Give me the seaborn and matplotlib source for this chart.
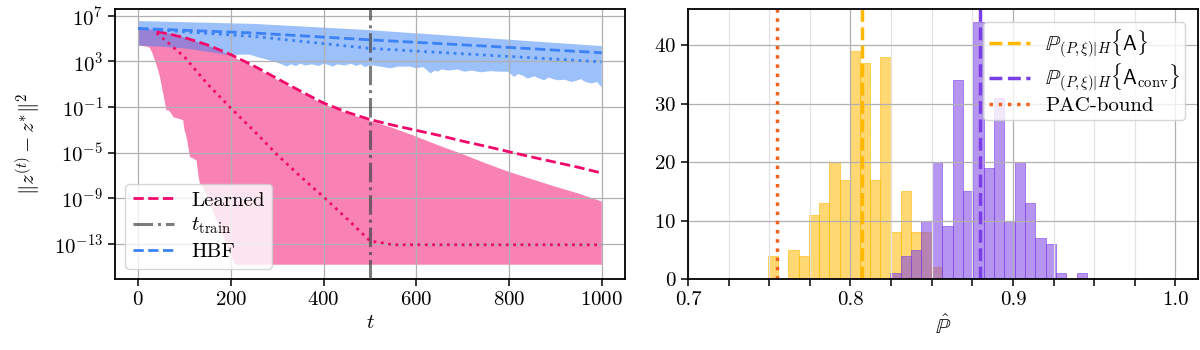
import numpy as np
import matplotlib
matplotlib.use("Agg")
import matplotlib.pyplot as plt
from matplotlib.ticker import FixedLocator, NullLocator, MultipleLocator, FixedFormatter
import seaborn as sns

# ---------------- convergence data (log10 of squared distance) ----------------
t_learned = [40, 100, 150, 200, 250, 300, 350, 400, 450, 500,
             550, 600, 650, 700, 750, 800, 850, 900, 950, 1000]
learned_median_exp = [5.65, 5.1, 4.45, 3.6, 2.6, 1.5, 0.4, -0.65, -1.45, -2.1,
                      -2.6, -3.05, -3.5, -4.0, -4.45, -4.93, -5.4, -5.85, -6.3, -6.8]
learned_best_exp = [5.5, 3.4, 1.0, -1.1, -3.1, -5.2, -7.1, -8.9, -10.8, -12.75,
                    -13.1, -13.1, -13.1, -13.1, -13.1, -13.1, -13.1, -13.1, -13.1, -13.1]

t_band = [0, 50, 100, 150, 200, 250, 300, 350, 400, 450, 500,
          550, 600, 650, 700, 750, 800, 850, 900, 950, 1000]
learned_upper_exp = [6.0, 5.65, 5.1, 4.4, 3.5, 2.5, 1.4, 0.3, -0.75, -1.55, -2.2,
                     -2.85, -3.6, -4.4, -5.15, -5.95, -6.7, -7.35, -8.0, -8.6, -9.3]
t_learned_lower = [0, 10, 20, 25, 30, 36, 42, 47, 54, 61, 66, 72, 76, 85, 97, 100,
                   105, 112, 118, 126, 130, 133, 140, 150, 160, 170, 180, 190, 200,
                   210, 1000]
learned_lower_exp = [4.4, 4.35, 4.3, 4.2, 3.8, 3.1, 2.4, 1.65, 0.2, -1.3, -1.3, -1.6,
                     -1.9, -2.0, -2.15, -3.0, -3.75, -5.4, -5.5, -5.7, -7.0, -7.7, -8.0,
                     -9.0, -10.0, -11.0, -12.0, -13.0, -14.0, -14.85, -14.85]

t_hbf = [0, 250, 500, 750, 1000]
hbf_median_exp = [5.9, 5.5, 4.9, 4.35, 3.76]
hbf_upper_exp = [6.55, 6.3, 5.75, 5.05, 4.35]
t_hbf_best = [0, 50, 100, 250, 500, 750, 1000]
hbf_best_exp = [5.9, 5.75, 5.6, 5.2, 4.15, 3.56, 2.97]
t_hbf_lower = [0, 50, 100, 126, 150, 198, 220, 241, 260, 284, 300, 306, 313, 320, 330,
               340, 350, 360, 375, 390, 400, 410, 420, 430, 445, 460, 470, 480, 490,
               500, 544, 560, 587, 600, 615, 631, 640, 645, 655, 670, 690, 703, 720,
               739, 760, 780, 797, 811, 820, 830, 840, 855, 865, 876, 885, 895, 905,
               920, 934, 945, 955, 965, 977, 990, 1000]
hbf_lower_exp = [4.4, 4.3, 4.15, 4.0, 3.85, 3.55, 3.6, 3.6, 3.35, 3.1, 2.9, 2.8, 2.7,
                 2.55, 2.75, 2.6, 2.8, 2.65, 2.75, 2.6, 2.8, 2.7, 2.55, 2.75, 2.65, 2.8,
                 2.6, 2.75, 2.5, 2.7, 2.4, 2.55, 2.55, 2.4, 2.5, 1.95, 2.2, 2.1, 2.3,
                 2.2, 2.3, 2.1, 2.2, 2.05, 2.15, 2.1, 2.1, 1.65, 1.9, 1.75, 1.5, 1.7,
                 1.5, 1.35, 1.6, 1.45, 1.35, 1.4, 1.2, 1.3, 1.45, 1.2, 1.07, 1.2, 0.72]
t_train = 500

# ---------------- empirical probability histograms ----------------
p_a_first_edge, p_a_bin_width = 0.7493, 0.00628
p_a_counts = [4, 0, 5, 4, 11, 13, 20, 17, 39, 37, 17, 38, 8, 15, 8, 8, 2]
p_conv_first_edge, p_conv_bin_width = 0.8246, 0.00637
p_conv_counts = [1, 4, 5, 10, 20, 9, 34, 15, 44, 19, 31, 10, 20, 13, 7, 6, 1, 0, 1]
p_a_mean = 0.8073
p_conv_mean = 0.8796
pac_bound = 0.755

# ---------------- style ----------------
sns.set_style("ticks", rc={"axes.edgecolor": "black", "xtick.color": "black",
                           "ytick.color": "black", "text.color": "black",
                           "axes.labelcolor": "black"})
plt.rcParams.update({
    "font.family": "serif",
    "font.serif": ["cmr10"],
    "mathtext.fontset": "cm",
    "axes.formatter.use_mathtext": True,
    "axes.unicode_minus": False,
    "font.size": 15,
    "axes.linewidth": 1.3,
    "grid.color": "#b0b0b0",
    "grid.linewidth": 0.9,
})

PINK = "#F2076B"
BLUE = "#3B82F6"
GOLD = "#FFB800"
PURPLE = "#7A3EE6"
ORANGE = "#F2621C"

fig = plt.figure(figsize=(12, 3.5), dpi=100)
ax = fig.add_axes([0.0958, 0.203, 0.425, 0.771])
ax2 = fig.add_axes([0.5733, 0.203, 0.4248, 0.771])

# ---------------- left: distance to optimum ----------------
ax.set_yscale("log")
ax.fill(np.r_[t_band, t_learned_lower[::-1]],
        10.0 ** np.r_[learned_upper_exp, learned_lower_exp[::-1]],
        color=PINK, alpha=0.5, lw=0)
sns.lineplot(x=t_learned, y=10.0 ** np.array(learned_median_exp), ax=ax, color=PINK,
             lw=2, linestyle="--", label="Learned")
sns.lineplot(x=t_learned, y=10.0 ** np.array(learned_best_exp), ax=ax, color=PINK,
             lw=2, linestyle=":")
ax.axvline(t_train, color="#444444", alpha=0.7, lw=2.2, ls="-.", zorder=3,
           label=r"$t_{\mathrm{train}}$")
ax.fill(np.r_[t_hbf, t_hbf_lower[::-1]],
        10.0 ** np.r_[hbf_upper_exp, hbf_lower_exp[::-1]],
        color=BLUE, alpha=0.5, lw=0)
sns.lineplot(x=t_hbf, y=10.0 ** np.array(hbf_median_exp), ax=ax, color=BLUE,
             lw=2, linestyle="--", label="HBF")
sns.lineplot(x=t_hbf_best, y=10.0 ** np.array(hbf_best_exp), ax=ax, color=BLUE,
             lw=2, linestyle=":")

ax.set_xlim(-50, 1050)
ax.set_ylim(10 ** -16.1, 10 ** 7.6)
ax.yaxis.set_major_locator(FixedLocator([1e7, 1e3, 1e-1, 1e-5, 1e-9, 1e-13]))
ax.yaxis.set_minor_locator(NullLocator())
ax.xaxis.set_major_locator(MultipleLocator(200))
ax.set_axisbelow("line")
ax.grid(True, which="major")
ax.set_xlabel(r"$t$")
ax.set_ylabel(r"$\|z^{(t)} - z^{*}\|^2$", labelpad=8)
ax.legend(loc="lower left", fontsize=15, labelspacing=0.3, borderpad=0.35,
          handlelength=2.0, framealpha=0.8)

# ---------------- right: histograms of empirical probabilities ----------------
def bin_edges(first, width, counts):
    return [first + width * i for i in range(len(counts) + 1)]

def bin_centers(first, width, counts):
    return [first + width * (i + 0.5) for i in range(len(counts))]

sns.histplot(x=bin_centers(p_a_first_edge, p_a_bin_width, p_a_counts),
             weights=p_a_counts,
             bins=bin_edges(p_a_first_edge, p_a_bin_width, p_a_counts),
             color=GOLD, alpha=0.55, linewidth=0.4, edgecolor=GOLD, ax=ax2)
sns.histplot(x=bin_centers(p_conv_first_edge, p_conv_bin_width, p_conv_counts),
             weights=p_conv_counts,
             bins=bin_edges(p_conv_first_edge, p_conv_bin_width, p_conv_counts),
             color=PURPLE, alpha=0.55, linewidth=0.4, edgecolor=PURPLE, ax=ax2)
ax2.axvline(p_a_mean, color=GOLD, lw=2.5, ls="--",
            label=r"$\mathbb{P}_{(P,\xi)|H}\{\mathsf{A}\}$")
ax2.axvline(p_conv_mean, color=PURPLE, lw=2.5, ls="--",
            label=r"$\mathbb{P}_{(P,\xi)|H}\{\mathsf{A}_{\mathrm{conv}}\}$")
ax2.axvline(pac_bound, color=ORANGE, lw=2.5, ls=":", label="PAC-bound")

ax2.set_xlim(0.7, 1.0137)
ax2.xaxis.set_major_locator(FixedLocator([0.7, 0.8, 0.9, 1.0]))
ax2.xaxis.set_major_formatter(FixedFormatter(["0.7", "0.8", "0.9", "1.0"]))
ax2.xaxis.set_minor_locator(MultipleLocator(0.025))
ax2.yaxis.set_major_locator(MultipleLocator(10))
ax2.set_axisbelow("line")
ax2.grid(True, which="major")
ax2.grid(True, which="minor", axis="x", color="#e3e3e3")
ax2.set_ylabel("")
ax2.set_xlabel(r"$\hat{\mathbb{P}}$")
ax2.legend(loc="upper right", fontsize=15, labelspacing=0.1, borderpad=0.25,
           handlelength=2.0, handletextpad=0.7, framealpha=0.8,
           borderaxespad=0.6)

for a in (ax, ax2):
    for s in a.spines.values():
        s.set_visible(True)
        s.set_linewidth(1.3)
        s.set_color("black")
    a.tick_params(which="both", direction="out", length=5, width=1.1,
                  labelsize=15, color="black")

fig.savefig("out.png", dpi=100)
